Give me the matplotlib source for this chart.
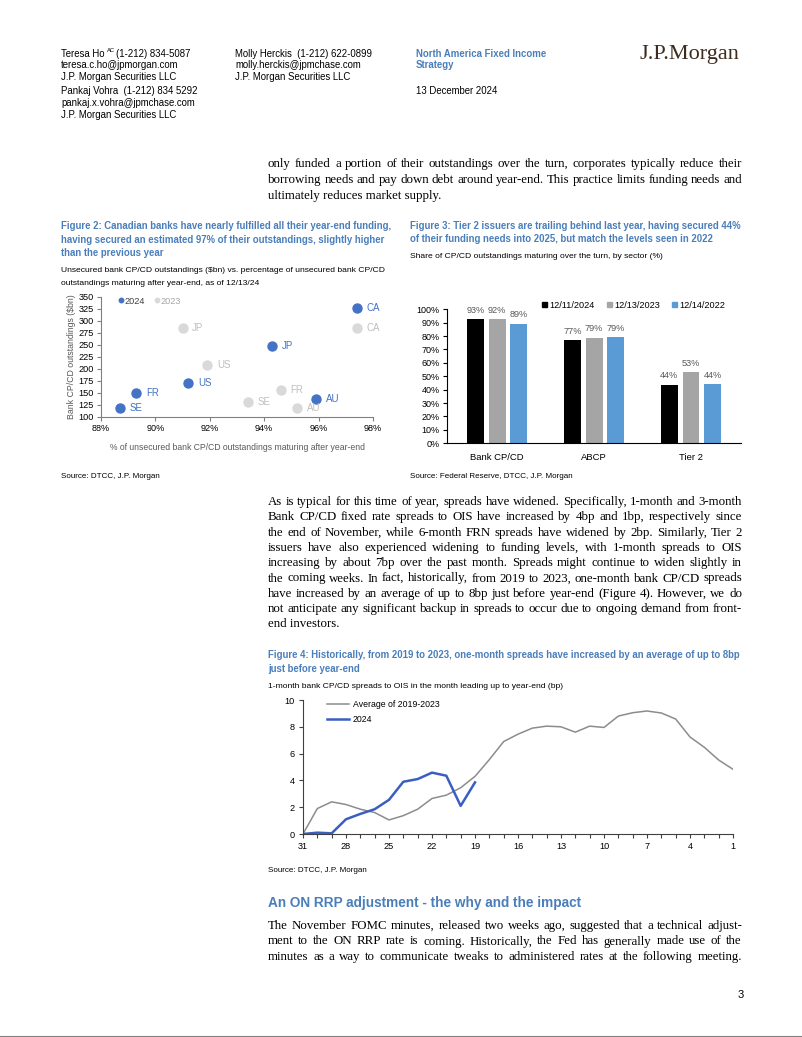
import matplotlib
matplotlib.use("Agg")
import matplotlib.pyplot as plt
from matplotlib.lines import Line2D
from matplotlib.patches import Patch

# ---- Figure 2 data: bank CP/CD outstandings vs share maturing after year-end
countries = ["CA", "JP", "US", "FR", "SE", "AU"]
pct_2024 = [97.4, 94.3, 91.2, 89.3, 88.7, 95.9]
out_2024 = [327, 247, 171, 151, 119, 137]
pct_2023 = [97.4, 91.0, 91.9, 94.6, 93.4, 95.2]
out_2023 = [285, 285, 208, 157, 132, 119]

# ---- Figure 3 data: share maturing over the turn, by sector (%)
sectors = ["Bank CP/CD", "ABCP", "Tier 2"]
dates = ["12/11/2024", "12/13/2023", "12/14/2022"]
share_2024 = [93.0, 76.9, 43.8]
share_2023 = [92.4, 78.9, 53.0]
share_2022 = [89.3, 79.4, 44.4]

# ---- Figure 4 data: 1-month spreads to OIS by day of December (bp)
days = list(range(31, 0, -1))
avg_1923 = [0, 1.9, 2.4, 2.2, 1.85, 1.6, 1.05, 1.37, 1.85, 2.65, 2.9, 3.45,
            4.3, 5.55, 6.9, 7.45, 7.9, 8.05, 8.0, 7.6, 8.05, 7.95, 8.8, 9.05,
            9.18, 9.03, 8.58, 7.24, 6.47, 5.52, 4.83]
days_2024 = list(range(31, 18, -1))
spread_2024 = [0, 0.1, 0.05, 1.1, 1.5, 1.85, 2.55, 3.9, 4.1, 4.58, 4.35, 2.1, 3.85]

W, H = 802, 1037
SANS = ["Liberation Sans", "DejaVu Sans"]
SERIF = ["Liberation Serif", "DejaVu Serif"]
TBLUE = "#4A7EBB"

plt.rcParams["font.family"] = SANS
fig = plt.figure(figsize=(W / 100, H / 100), dpi=100)
renderer = fig.canvas.get_renderer()


def put(x, y, s, **kw):
    # place text using page pixel coords (origin top-left)
    kw.setdefault("va", "center")
    return fig.text(x / W, 1 - y / H, s, **kw)


def box(l, t, r, b):
    return fig.add_axes([l / W, 1 - b / H, (r - l) / W, (b - t) / H])


def paragraph(lines, x0, x1, y0, dy, size=9.3, justify_last=False):
    for i, line in enumerate(lines):
        y = y0 + i * dy
        if i == len(lines) - 1 and not justify_last:
            put(x0, y, line, family=SERIF, fontsize=size)
            continue
        words = line.split(" ")
        texts = [put(x0, y, w, family=SERIF, fontsize=size) for w in words]
        widths = [t.get_window_extent(renderer).width for t in texts]
        gap = (x1 - x0 - sum(widths)) / (len(words) - 1)
        x = x0
        for t, w in zip(texts, widths):
            t.set_x(x / W)
            x += w + gap


# ---- header
hs = 6.9
t = put(61, 54, "Teresa Ho", fontsize=hs)
w = t.get_window_extent(renderer).width
put(61 + w + 2, 51, "AC", fontsize=4.2)
put(61 + w + 12, 54, "(1-212) 834-5087", fontsize=hs)
for y, s in [(65, "teresa.c.ho@jpmorgan.com"), (77, "J.P. Morgan Securities LLC"),
             (91, "Pankaj Vohra  (1-212) 834 5292"), (103, "pankaj.x.vohra@jpmchase.com"),
             (115, "J.P. Morgan Securities LLC")]:
    put(61, y, s, fontsize=hs)
for y, s in [(54, "Molly Herckis  (1-212) 622-0899"), (65, "molly.herckis@jpmchase.com"),
             (77, "J.P. Morgan Securities LLC")]:
    put(235, y, s, fontsize=hs)
put(416, 54, "North America Fixed Income", fontsize=hs, color=TBLUE, weight="bold")
put(416, 65, "Strategy", fontsize=hs, color=TBLUE, weight="bold")
put(416, 91, "13 December 2024", fontsize=hs)
put(640, 54, "J.P.Morgan", fontsize=16, family=SERIF, color="#3d2b1f")

# ---- body text
paragraph(["only funded a portion of their outstandings over the turn, corporates typically reduce their",
           "borrowing needs and pay down debt around year-end. This practice limits funding needs and",
           "ultimately reduces market supply."], 268, 742, 164, 16)

paragraph(["As is typical for this time of year, spreads have widened. Specifically, 1-month and 3-month",
           "Bank CP/CD fixed rate spreads to OIS have increased by 4bp and 1bp, respectively since",
           "the end of November, while 6-month FRN spreads have widened by 2bp. Similarly, Tier 2",
           "issuers have also experienced widening to funding levels, with 1-month spreads to OIS",
           "increasing by about 7bp over the past month. Spreads might continue to widen slightly in",
           "the coming weeks. In fact, historically, from 2019 to 2023, one-month bank CP/CD spreads",
           "have increased by an average of up to 8bp just before year-end (Figure 4). However, we do",
           "not anticipate any significant backup in spreads to occur due to ongoing demand from front-",
           "end investors."], 268, 742, 502, 15.3)

put(268, 903, "An ON RRP adjustment - the why and the impact", fontsize=9.8,
    color=TBLUE, weight="bold")
paragraph(["The November FOMC minutes, released two weeks ago, suggested that a technical adjust-",
           "ment to the ON RRP rate is coming. Historically, the Fed has generally made use of the",
           "minutes as a way to communicate tweaks to administered rates at the following meeting."],
          268, 742, 926, 15.5, justify_last=True)
put(738, 995, "3", fontsize=8)
fig.add_artist(Line2D([0, 1], [0.5 / H, 0.5 / H], color="#808080", lw=1.5))

ts = 6.9   # figure titles
ss = 6.1   # figure subtitles
src = 5.8  # sources

# ---- Figure 2
for y, s in [(226, "Figure 2: Canadian banks have nearly fulfilled all their year-end funding,"),
             (240, "having secured an estimated 97% of their outstandings, slightly higher"),
             (253, "than the previous year")]:
    put(61, y, s, fontsize=ts, color=TBLUE, weight="bold")
put(61, 271, "Unsecured bank CP/CD outstandings ($bn) vs. percentage of unsecured bank CP/CD", fontsize=ss)
put(61, 283, "outstandings maturing after year-end, as of 12/13/24", fontsize=ss)
put(61, 476, "Source: DTCC, J.P. Morgan", fontsize=src)

blue = "#4472C4"
g23 = "#D9D9D9"
ax2 = box(101, 297, 373, 417)
ax2.scatter(pct_2023, out_2023, s=42, color=g23, zorder=2)
ax2.scatter(pct_2024, out_2024, s=42, color=blue, zorder=3)
for c, x, y in zip(countries, pct_2023, out_2023):
    ax2.annotate(c, (x, y), xytext=(7, 0), textcoords="offset points", va="center",
                 fontsize=7, color="#BFBFBF")
for c, x, y in zip(countries, pct_2024, out_2024):
    ax2.annotate(c, (x, y), xytext=(7, 0), textcoords="offset points", va="center",
                 fontsize=7, color=blue)
ax2.set_xlim(88, 98)
ax2.set_ylim(100, 350)
ax2.set_xticks(range(88, 100, 2))
ax2.set_xticklabels([f"{v}%" for v in range(88, 100, 2)])
ax2.set_yticks(range(100, 375, 25))
ax2.tick_params(labelsize=6.6, length=3, color="#808080", pad=2)
for sp in ["top", "right"]:
    ax2.spines[sp].set_visible(False)
for sp in ["left", "bottom"]:
    ax2.spines[sp].set_color("#808080")
ax2.set_ylabel("Bank CP/CD outstandings ($bn)", fontsize=6.3, color="#595959", labelpad=2)
ax2.set_xlabel("% of unsecured bank CP/CD outstandings maturing after year-end",
               fontsize=6.2, color="#595959", labelpad=7)
h2 = [Line2D([], [], marker="o", ls="", color=blue, ms=3.2),
      Line2D([], [], marker="o", ls="", color=g23, ms=3.2)]
leg = ax2.legend(h2, ["2024", "2023"], loc="center left", bbox_to_anchor=(0.045, 0.965),
                 ncol=2, frameon=False, fontsize=6.6, handlelength=0.6,
                 handletextpad=0.1, columnspacing=1.0, borderpad=0)
leg.get_texts()[0].set_color("#404040")
leg.get_texts()[1].set_color("#A6A6A6")

# ---- Figure 3
put(410, 226, "Figure 3: Tier 2 issuers are trailing behind last year, having secured 44%",
    fontsize=ts, color=TBLUE, weight="bold")
put(410, 239, "of their funding needs into 2025, but match the levels seen in 2022",
    fontsize=ts, color=TBLUE, weight="bold")
put(410, 256, "Share of CP/CD outstandings maturing over the turn, by sector (%)", fontsize=ss)
put(410, 476, "Source: Federal Reserve, DTCC, J.P. Morgan", fontsize=src)

ax3 = box(446.7, 309.3, 741.4, 443.3)
bar_colors = ["#000000", "#A5A5A5", "#5B9BD5"]
xs = range(len(sectors))
for k, (vals, col) in enumerate(zip([share_2024, share_2023, share_2022], bar_colors)):
    pos = [x + (k - 1) * 0.223 for x in xs]
    bars = ax3.bar(pos, vals, width=0.175, color=col, label=dates[k])
    for b, v in zip(bars, vals):
        ax3.annotate(f"{v:.0f}%", (b.get_x() + b.get_width() / 2, v), xytext=(0, 3),
                     textcoords="offset points", ha="center", va="bottom",
                     fontsize=6.6, color="#595959", annotation_clip=False)
ax3.set_xlim(-0.52, 2.52)
ax3.set_ylim(0, 100)
ax3.set_yticks(range(0, 110, 10))
ax3.set_yticklabels([f"{v}%" for v in range(0, 110, 10)])
ax3.set_xticks(list(xs))
ax3.set_xticklabels(sectors)
ax3.tick_params(axis="y", labelsize=6.5, length=3, pad=2)
ax3.tick_params(axis="x", labelsize=6.8, length=0, pad=7)
for sp in ["top", "right"]:
    ax3.spines[sp].set_visible(False)
h3 = [Patch(color=c) for c in bar_colors]
ax3.legend(h3, dates, loc="center right", bbox_to_anchor=(0.96, 1.03), ncol=3,
           frameon=False, fontsize=6.6, handlelength=0.55, handleheight=0.55,
           handletextpad=0.25, columnspacing=1.3, borderpad=0)

# ---- Figure 4
put(268, 655, "Figure 4: Historically, from 2019 to 2023, one-month spreads have increased by an average of up to 8bp",
    fontsize=ts, color=TBLUE, weight="bold")
put(268, 669, "just before year-end", fontsize=ts, color=TBLUE, weight="bold")
put(268, 686, "1-month bank CP/CD spreads to OIS in the month leading up to year-end (bp)", fontsize=ss)
put(268, 871, "Source: DTCC, J.P. Morgan", fontsize=src)

ax4 = box(303, 700, 733, 834)
ax4.plot(days, avg_1923, color="#8C8C8C", lw=1.1, label="Average of 2019-2023")
ax4.plot(days_2024, spread_2024, color="#3A5FC0", lw=1.8, label="2024")
ax4.set_xlim(31, 1)
ax4.set_ylim(0, 10)
ax4.set_xticks(days)
ax4.set_xticklabels([str(d) if (31 - d) % 3 == 0 else "" for d in days])
ax4.set_yticks(range(0, 12, 2))
ax4.tick_params(labelsize=6.6, length=3, color="#404040", pad=3)
for sp in ["top", "right"]:
    ax4.spines[sp].set_visible(False)
for sp in ["left", "bottom"]:
    ax4.spines[sp].set_color("#404040")
ax4.legend(loc="upper left", bbox_to_anchor=(0.045, 1.03), frameon=False, fontsize=6.3,
           handlelength=2.6, handletextpad=0.4, labelspacing=0.6, borderpad=0)

fig.savefig("out.png", dpi=100)
